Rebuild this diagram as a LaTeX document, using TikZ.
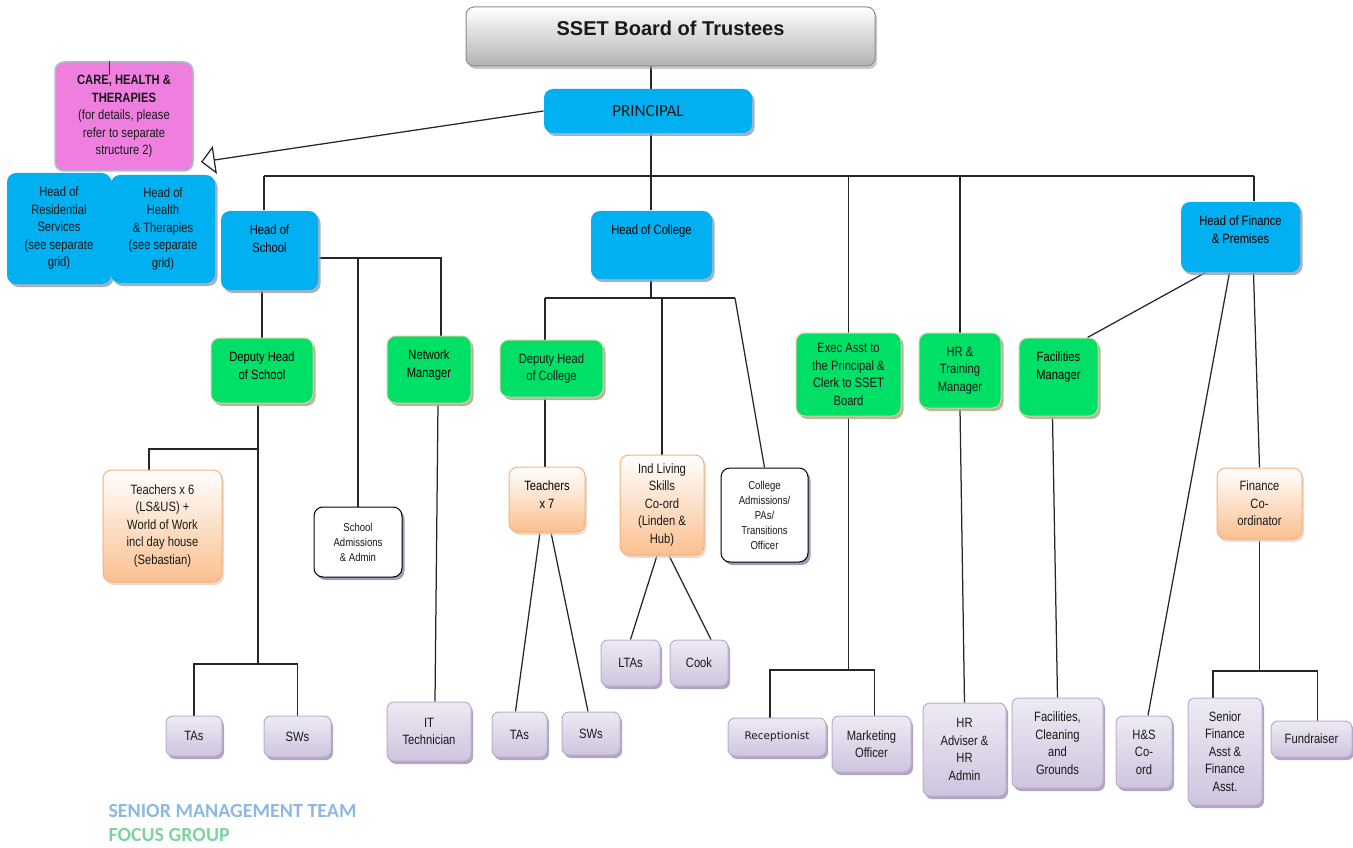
\documentclass[tikz,border=0pt]{standalone}
\usepackage{fontspec}
\setmainfont{Liberation Sans}
\newfontfamily\narrowfont[FakeStretch=0.83]{Liberation Sans}
\newfontfamily\calfont{Carlito}
\newfontfamily\tahfont{DejaVu Sans}
\usetikzlibrary{arrows.meta,shadows,backgrounds}

\definecolor{smblue}{HTML}{00B0F0}
\definecolor{smshadow}{HTML}{8AA0B4}
\definecolor{fggreen}{HTML}{00DF66}
\definecolor{fgedge}{HTML}{CAD3A2}
\definecolor{fgshadow}{HTML}{AFAF90}
\definecolor{peach}{HTML}{FAC08F}
\definecolor{peachedge}{HTML}{F6B07A}
\definecolor{lavtop}{HTML}{EEEAF4}
\definecolor{lavbot}{HTML}{CFC4DE}
\definecolor{lavedge}{HTML}{BBADD0}
\definecolor{lavshadow}{HTML}{9D8DB5}
\definecolor{pinkbox}{HTML}{EE7FDE}
\definecolor{pinkedge}{HTML}{A9BCD0}
\definecolor{keyblue}{HTML}{8DB8E2}
\definecolor{keygreen}{HTML}{7DD39E}
\definecolor{linkgray}{HTML}{262626}

\tikzset{
  orgbox/.style={rounded corners=9pt, align=center, inner sep=1pt, text=black!90,
    font=\narrowfont\fontsize{13.5}{17.5}\selectfont},
  lbl/.style={anchor=north, yshift=-14pt, align=center, inner sep=0pt,
    font=\narrowfont\fontsize{13.5}{17.5}\selectfont},
  toptext/.style={label={[lbl]north:{#1}}},
  boardbox/.style={orgbox, rounded corners=8pt, top color=white, bottom color=black!30,
    draw=black!45, line width=1pt, font=\bfseries\fontsize{20}{24}\selectfont,
    drop shadow={shadow xshift=2pt, shadow yshift=-3pt, fill=black!35, opacity=.6}},
  smbox/.style={orgbox, fill=smblue,
    drop shadow={shadow xshift=2.5pt, shadow yshift=-3pt, fill=smshadow, opacity=.8}},
  pinkbox/.style={orgbox, fill=pinkbox, draw=pinkedge, line width=1.5pt},
  fgbox/.style={orgbox, fill=fggreen, draw=fgedge, line width=1pt,
    drop shadow={shadow xshift=2.5pt, shadow yshift=-3pt, fill=fgshadow, opacity=.9}},
  tchbox/.style={orgbox, top color=white, bottom color=peach, draw=peachedge, line width=1pt,
    drop shadow={shadow xshift=2pt, shadow yshift=-3pt, fill=peach!70!black!40, opacity=.7}},
  admbox/.style={orgbox, fill=white, draw=black, line width=1pt,
    font=\narrowfont\fontsize{11.5}{15}\selectfont,
    drop shadow={shadow xshift=2.5pt, shadow yshift=-3pt, fill=lavshadow, opacity=.9}},
  staffbox/.style={orgbox, rounded corners=7pt, top color=lavtop, bottom color=lavbot,
    draw=lavedge, line width=1pt,
    drop shadow={shadow xshift=2pt, shadow yshift=-3pt, fill=lavshadow, opacity=.8}},
  keytext/.style={anchor=base west, inner sep=0pt, font=\calfont\bfseries\fontsize{20}{24}\selectfont},
  link/.style={draw=linkgray, line width=1.25pt}
}

\begin{document}
\begin{tikzpicture}[x=1pt, y=-1pt, line width=1pt]
\useasboundingbox (0,0) rectangle (1353,848);

% top of the tree
\node[boardbox, minimum width=409pt, minimum height=59pt, text depth=16pt] (board) at (670.5,36.5) {SSET Board of Trustees};
\node[smbox, minimum width=208pt, minimum height=44pt, font=\calfont\fontsize{17}{20}\selectfont] (principal) at (648,111) {PRINCIPAL};
\node[pinkbox, minimum width=138pt, minimum height=109pt] (care) at (124,116.5) {\textbf{CARE, HEALTH \&}\\\textbf{THERAPIES}\\(for details, please\\refer to separate\\structure 2)};

% heads
\node[smbox, minimum width=104pt, minimum height=111pt] (hres) at (59,228.5) {Head of\\Residential\\Services\\(see separate\\grid)};
\node[smbox, minimum width=104pt, minimum height=108pt] (hhth) at (163,229) {Head of\\Health\\\& Therapies\\(see separate\\grid)};
\node[smbox, minimum width=97pt, minimum height=79pt, toptext={Head of\\School}] (hos) at (269.5,250.5) {};
\node[smbox, minimum width=121pt, minimum height=68pt, toptext={Head of College}] (hoc) at (651.5,245) {};
\node[smbox, minimum width=119pt, minimum height=70pt, toptext={Head of Finance\\\& Premises}] (hofp) at (1240.5,237) {};

% focus group
\node[fgbox, minimum width=102pt, minimum height=65pt, toptext={Deputy Head\\of School}] (dhos) at (262,370.5) {};
\node[fgbox, minimum width=84pt, minimum height=67pt, toptext={Network\\Manager}] (netm) at (429,369.5) {};
\node[fgbox, minimum width=103pt, minimum height=57pt] (dhoc) at (551.5,368.5) {Deputy Head\\of College};
\node[fgbox, minimum width=105pt, minimum height=83pt] (exec) at (848.5,374.5) {Exec Asst to\\the Principal \&\\Clerk to SSET\\Board};
\node[fgbox, minimum width=82pt, minimum height=75pt] (hrtm) at (960,370.5) {HR \&\\Training\\Manager};
\node[fgbox, minimum width=79pt, minimum height=78pt, toptext={Facilities\\Manager}] (facm) at (1058.5,377) {};

% teachers and admin
\node[tchbox, minimum width=119pt, minimum height=112pt] (tsix) at (162.5,526) {Teachers x 6\\(LS\&US) +\\World of Work\\incl day house\\(Sebastian)};
\node[admbox, minimum width=88pt, minimum height=70pt] (sadm) at (358,542) {School\\Admissions\\\& Admin};
\node[tchbox, minimum width=76pt, minimum height=65pt, toptext={Teachers\\x 7}] (tsev) at (547,499.5) {};
\node[tchbox, minimum width=84pt, minimum height=100pt] (ils) at (662,505) {Ind Living\\Skills\\Co-ord\\(Linden \&\\Hub)};
\node[admbox, minimum width=87pt, minimum height=94pt] (cadm) at (764.5,515) {College\\Admissions/\\PAs/\\Transitions\\Officer};
\node[tchbox, minimum width=85pt, minimum height=71pt] (fco) at (1259.5,503.5) {Finance\\Co-\\ordinator};

% staff
\node[staffbox, minimum width=56pt, minimum height=40pt] (tasa) at (194,736) {TAs};
\node[staffbox, minimum width=67pt, minimum height=41pt] (swsa) at (297.5,736.5) {SWs};
\node[staffbox, minimum width=84pt, minimum height=59pt] (itt) at (429,731.5) {IT\\Technician};
\node[staffbox, minimum width=55pt, minimum height=45pt] (tasb) at (519.5,734.5) {TAs};
\node[staffbox, minimum width=58pt, minimum height=43pt] (swsb) at (591,733.5) {SWs};
\node[staffbox, minimum width=59pt, minimum height=46pt] (ltas) at (630.5,663) {LTAs};
\node[staffbox, minimum width=58pt, minimum height=46pt] (cook) at (699,663) {Cook};
\node[staffbox, minimum width=98pt, minimum height=38pt, font=\tahfont\fontsize{10.5}{13}\selectfont] (recp) at (777,737) {Receptionist};
\node[staffbox, minimum width=79pt, minimum height=56pt] (mkt) at (871.5,744) {Marketing\\Officer};
\node[staffbox, minimum width=83pt, minimum height=93pt] (hrad) at (964.5,749.5) {HR\\Adviser \&\\HR\\Admin};
\node[staffbox, minimum width=91pt, minimum height=90pt] (fcg) at (1057.5,743) {Facilities,\\Cleaning\\and\\Grounds};
\node[staffbox, minimum width=56pt, minimum height=72pt] (hsco) at (1144,752) {H\&S\\Co-\\ord};
\node[staffbox, minimum width=74pt, minimum height=107pt] (sfa) at (1225,751.5) {Senior\\Finance\\Asst \&\\Finance\\Asst.};
\node[staffbox, minimum width=81pt, minimum height=36pt] (fund) at (1311.5,739) {Fundraiser};

% key
\node[keytext, text=keyblue] (smtkey) at (108,817.5) {SENIOR MANAGEMENT TEAM};
\node[keytext, text=keygreen] (fgkey) at (108,841.5) {FOCUS GROUP};

% connectors
\coordinate (spine) at (651,176);
\coordinate (barL) at (264,176);
\coordinate (barR) at (1254,176);
\coordinate (sbar) at (441,258);
\coordinate (dj) at (258,449);
\coordinate (tj) at (258,664);
\coordinate (cL) at (545,298);
\coordinate (cR) at (735,298);
\coordinate (ej) at (847,670);
\coordinate (fj) at (1259,671);
\coordinate (tip) at (201,162);

\begin{scope}[on background layer, every path/.style=link]
\draw (spine |- board.south) -- (spine |- hoc.north);
\draw (barL) -- (barR);
\draw (barL) -- (barL |- hos.north);
\draw (barR) -- (barR |- hofp.north);
\draw (exec.north) -- (exec.north |- barL);
\draw (hrtm.north) -- (hrtm.north |- barL);
% school side
\draw (dhos.north) -- (dhos.north |- hos.south);
\draw (hos.east |- sbar) -- (sbar) -- (sbar |- netm.north);
\draw (sadm.north) -- (sadm.north |- sbar);
\draw ([xshift=9pt]netm.south) -- ([xshift=6pt]itt.north);
\draw (dj |- dhos.south) -- (dj) -| ([xshift=-13.5pt]tsix.north);
\draw (dj) -- (tj);
\draw (tasa.north) |- (tj) -| (swsa.north);
% college side
\draw (spine |- hoc.south) -- (spine |- cL);
\draw (cL) -- (cR);
\draw (cL) -- (cL |- dhoc.north);
\draw (ils.north) -- (ils.north |- cL);
\draw (cR) -- (cadm.north);
\draw (cL |- dhoc.south) -- (cL |- tsev.north);
\draw ([xshift=-7pt]tsev.south) -- ([xshift=-4pt]tasb.north);
\draw ([xshift=4pt]tsev.south) -- ([xshift=-3pt]swsb.north);
\draw ([xshift=-5pt]ils.south) -- (ltas.north);
\draw ([xshift=7pt]ils.south) -- ([xshift=12pt]cook.north);
% exec, hr, finance
\draw (exec.south) -- (exec.south |- ej);
\draw ([xshift=-7pt]recp.north) |- (ej) -| ([xshift=3pt]mkt.north);
\draw (hrtm.south) -- (hrad.north);
\draw ([xshift=-6pt]facm.south) -- (fcg.north);
\draw ([xshift=-35pt]hofp.south) -- ([xshift=29pt]facm.north);
\draw ([xshift=-11pt]hofp.south) -- ([xshift=4pt]hsco.north);
\draw ([xshift=13pt]hofp.south) -- (fco.north);
\draw (fco.south) -- (fco.south |- fj);
\draw ([xshift=-12pt]sfa.north) |- (fj) -| ([xshift=6pt]fund.north);
\end{scope}

\draw[link, -{Triangle[open,length=14pt,width=28pt]}] (principal.west) -- (tip);
\draw[line width=0.6pt, green!35!black] ([xshift=-15pt]care.north) -- ++(0,14);

\end{tikzpicture}
\end{document}
